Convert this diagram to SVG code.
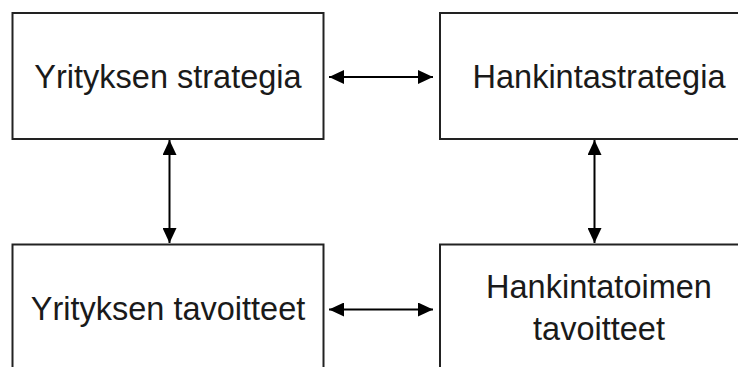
<svg xmlns="http://www.w3.org/2000/svg" width="738" height="367" viewBox="0 0 738 367">
  <style>
    .box { fill: #ffffff; stroke: #222222; stroke-width: 2; }
    .label { font-family: "Liberation Sans", Arial, sans-serif; font-size: 32.5px; fill: #1a1a1a; text-anchor: middle; }
    .link { stroke: #000000; stroke-width: 2; fill: none; marker-start: url(#head); marker-end: url(#head); }
  </style>
  <defs>
    <marker id="head" viewBox="0 0 15 14" refX="15" refY="7" markerWidth="15" markerHeight="14" markerUnits="userSpaceOnUse" orient="auto-start-reverse">
      <path d="M0,0 L15,7 L0,14 Z" fill="#000000"/>
    </marker>
  </defs>
  <rect width="738" height="367" fill="#ffffff"/>

  <g id="yrityksen-strategia">
    <rect class="box" x="12.5" y="13" width="311" height="126"/>
    <text class="label" x="168" y="88">Yrityksen strategia</text>
  </g>

  <g id="hankintastrategia">
    <rect class="box" x="440" y="13" width="318" height="126"/>
    <text class="label" x="599" y="88">Hankintastrategia</text>
  </g>

  <g id="yrityksen-tavoitteet">
    <rect class="box" x="12.5" y="244.5" width="311" height="130"/>
    <text class="label" x="168" y="320">Yrityksen tavoitteet</text>
  </g>

  <g id="hankintatoimen-tavoitteet">
    <rect class="box" x="440" y="244.5" width="318" height="130"/>
    <text class="label" x="599" y="298">Hankintatoimen</text>
    <text class="label" x="599" y="340">tavoitteet</text>
  </g>

  <g id="connectors">
    <line class="link" x1="329" y1="77" x2="433" y2="77"/>
    <line class="link" x1="329" y1="309.5" x2="433" y2="309.5"/>
    <line class="link" x1="169.5" y1="140" x2="169.5" y2="243"/>
    <line class="link" x1="594.5" y1="140" x2="594.5" y2="243"/>
  </g>
</svg>
